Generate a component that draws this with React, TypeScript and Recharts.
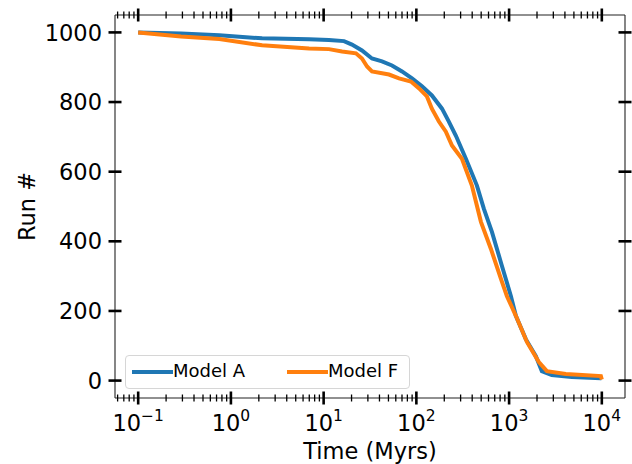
import React from "react"
import { LineChart, Line, XAxis, YAxis, Legend } from "recharts"

// Model A (blue) survival curve
const timeA = [0.1, 0.29, 0.75, 2.17, 6.97, 11.4, 16.6, 20.2, 25.9, 33.2, 42.6, 54.6, 70, 89.7, 115, 147, 189, 224, 267, 342, 450, 535, 653, 836, 1045, 1183, 1515, 1944, 2256, 2886, 4750, 9770, 10000]
const runsA = [1000, 997, 992, 983, 980, 978, 975, 965, 948, 925, 917, 905, 888, 868, 845, 819, 781, 744, 703, 637, 560, 493, 427, 330, 243, 186, 119, 70, 27, 16, 10, 7, 6]

// Model F (orange)
const timeF = [0.1, 0.29, 0.75, 2.17, 6.97, 11.4, 15.8, 22.3, 25.9, 29.4, 33.2, 50.7, 65, 87.5, 107, 130, 147, 175, 208, 242, 310, 397, 497, 637, 817, 946, 1183, 1556, 2094, 2555, 4090, 9770, 10000]
const runsF = [1000, 988, 981, 963, 954, 952, 945, 940, 925, 902, 888, 879, 868, 859, 839, 816, 781, 744, 715, 675, 637, 560, 456, 378, 292, 243, 186, 111, 53, 27, 19, 13, 3]

const yTicks = [0, 200, 400, 600, 800, 1000]
const decades = [-2, -1, 0, 1, 2, 3, 4]

const xMin = Math.pow(10, -1.25)
const xMax = Math.pow(10, 4.25)

const xTicks: number[] = []
decades.forEach((d) => {
  for (let m = 1; m < 10; m++) {
    const v = m * Math.pow(10, d)
    if (v >= xMin && v <= xMax) xTicks.push(v)
  }
})

const dataA = timeA.map((t, i) => ({ t, runs: runsA[i] }))
const dataF = timeF.map((t, i) => ({ t, runs: runsF[i] }))

const FONT = "DejaVu Sans"
const SPINE = "#222"

const XTick = (props: any) => {
  const { x, y, payload, showLabel } = props
  const lg = Math.log10(payload.value)
  const e = Math.round(lg)
  const major = Math.abs(lg - e) < 1e-6
  const len = major ? 6.5 : 3.5
  return (
    <g>
      <line x1={x} x2={x} y1={y - len} y2={y + len} stroke="#000" strokeWidth={major ? 2.6 : 1.3} />
      {major && showLabel && (
        <text x={x} y={y + 33} textAnchor="middle" fontSize={22.5} fontFamily={FONT} fill="#000">
          10
          <tspan dy={-10} fontSize={15.5}>
            {e < 0 ? "\u2212" + Math.abs(e) : e}
          </tspan>
        </text>
      )}
    </g>
  )
}

const YTick = (props: any) => {
  const { x, y, payload, showLabel } = props
  return (
    <g>
      <line x1={x - 6.5} x2={x + 6.5} y1={y} y2={y} stroke="#000" strokeWidth={2.6} />
      {showLabel && (
        <text x={x - 13} y={y} dy="0.36em" textAnchor="end" fontSize={22.5} fontFamily={FONT} fill="#000">
          {payload.value}
        </text>
      )}
    </g>
  )
}

const LegendBox = () => (
  <div
    style={{
      width: 283,
      height: 32,
      border: "1px solid #d6d6d6",
      borderRadius: 4,
      background: "rgba(255,255,255,0.8)",
      position: "relative",
      fontFamily: FONT,
      fontSize: 18,
      color: "#000",
    }}
  >
    <div style={{ position: "absolute", left: 6, top: 14, width: 41, height: 4, background: "#1f77b4" }} />
    <div style={{ position: "absolute", left: 47, top: 4, lineHeight: "22px" }}>Model A</div>
    <div style={{ position: "absolute", left: 161, top: 14, width: 41, height: 4, background: "#ff7f0e" }} />
    <div style={{ position: "absolute", left: 202, top: 4, lineHeight: "22px" }}>Model F</div>
  </div>
)

export default function App() {
  return (
    <div style={{ position: "absolute", left: 0, top: 0, width: 632, height: 464, background: "#fff" }}>
      <LineChart width={632} height={464} margin={{ top: 14, right: 6, left: 0, bottom: 0 }}>
        <XAxis
          xAxisId="bottom"
          dataKey="t"
          type="number"
          scale="log"
          domain={[xMin, xMax]}
          allowDataOverflow
          ticks={xTicks}
          interval={0}
          height={66}
          tickSize={0}
          tickMargin={0}
          tickLine={false}
          axisLine={{ stroke: SPINE, strokeWidth: 1.1 }}
          tick={<XTick showLabel />}
          label={(p: any) => {
            const vb = p.viewBox
            return (
              <text x={vb.x + vb.width / 2} y={459} textAnchor="middle" fontSize={22.5} fontFamily={FONT} fill="#000">
                Time (Myrs)
              </text>
            )
          }}
        />
        <XAxis
          xAxisId="top"
          orientation="top"
          dataKey="t"
          type="number"
          scale="log"
          domain={[xMin, xMax]}
          allowDataOverflow
          ticks={xTicks}
          interval={0}
          height={1}
          tickSize={0}
          tickMargin={0}
          tickLine={false}
          axisLine={{ stroke: SPINE, strokeWidth: 1.1 }}
          tick={<XTick />}
        />
        <YAxis
          yAxisId="left"
          type="number"
          domain={[-50, 1050]}
          allowDataOverflow
          ticks={yTicks}
          interval={0}
          width={115}
          tickSize={0}
          tickMargin={0}
          tickLine={false}
          axisLine={{ stroke: SPINE, strokeWidth: 1.1 }}
          tick={<YTick showLabel />}
          label={(p: any) => {
            const vb = p.viewBox
            const cy = vb.y + vb.height / 2
            return (
              <text x={35} y={cy} transform={`rotate(-90 35 ${cy})`} textAnchor="middle" fontSize={22.5} fontFamily={FONT} fill="#000">
                Run #
              </text>
            )
          }}
        />
        <YAxis
          yAxisId="right"
          orientation="right"
          type="number"
          domain={[-50, 1050]}
          allowDataOverflow
          ticks={yTicks}
          interval={0}
          width={1}
          tickSize={0}
          tickMargin={0}
          tickLine={false}
          axisLine={{ stroke: SPINE, strokeWidth: 1.1 }}
          tick={<YTick />}
        />
        <Legend
          layout="horizontal"
          verticalAlign="middle"
          align="center"
          content={<LegendBox />}
          wrapperStyle={{ position: "absolute", left: 125, top: 355, width: 285, height: 34 }}
        />
        {/* invisible series so the top and right frame axes get drawn */}
        <Line
          data={dataA}
          xAxisId="top"
          yAxisId="right"
          dataKey="runs"
          stroke="none"
          strokeWidth={0}
          dot={false}
          activeDot={false}
          legendType="none"
          isAnimationActive={false}
        />
        <Line
          data={dataA}
          xAxisId="bottom"
          yAxisId="left"
          dataKey="runs"
          name="Model A"
          type="linear"
          stroke="#1f77b4"
          strokeWidth={4}
          dot={false}
          isAnimationActive={false}
        />
        <Line
          data={dataF}
          xAxisId="bottom"
          yAxisId="left"
          dataKey="runs"
          name="Model F"
          type="linear"
          stroke="#ff7f0e"
          strokeWidth={4}
          dot={false}
          isAnimationActive={false}
        />
      </LineChart>
    </div>
  )
}
